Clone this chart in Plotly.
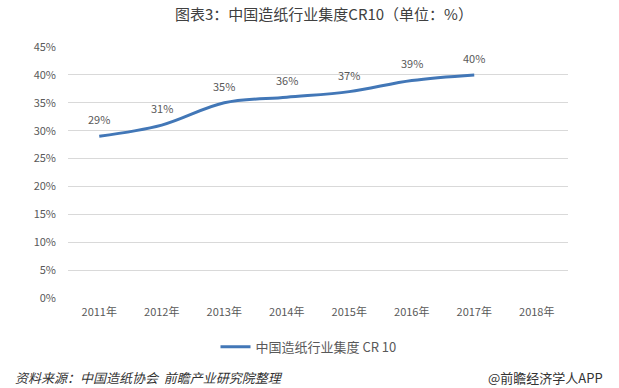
import plotly.graph_objects as go

years = ["2011年", "2012年", "2013年", "2014年", "2015年", "2016年", "2017年", "2018年"]
cr10 = [29, 31, 35, 36, 37, 39, 40, None]
y_ticks = [0, 5, 10, 15, 20, 25, 30, 35, 40, 45]
series_name = "中国造纸行业集度 CR 10"
title_text = "图表3：中国造纸行业集度CR10（单位：%）"
source_text = "资料来源：中国造纸协会  前瞻产业研究院整理"
brand_text = "@前瞻经济学人APP"

FONT = "Noto Sans CJK SC, Microsoft YaHei, sans-serif"
LINE_COLOR = "#4277B7"
TXT = "#595959"

fig = go.Figure()
fig.add_trace(go.Scatter(
    x=years, y=cr10, mode="lines", name=series_name,
    line=dict(color=LINE_COLOR, width=3, shape="spline", smoothing=1.0),
    connectgaps=False, hoverinfo="skip",
))

for yr, v in zip(years, cr10):
    if v is None:
        continue
    fig.add_annotation(x=yr, y=v, text=f"{v}%", showarrow=False,
                       yshift=17, font=dict(family=FONT, size=11, color=TXT))

fig.add_annotation(xref="paper", yref="paper", x=0.5, y=1, yanchor="middle",
                   yshift=34, xshift=6,
                   text=title_text, showarrow=False,
                   font=dict(family=FONT, size=15, color="#404040"))
fig.add_annotation(xref="paper", yref="paper", x=0, xanchor="left", xshift=-55,
                   y=0, yanchor="middle", yshift=-79,
                   text=f"<i>{source_text}</i>", showarrow=False,
                   font=dict(family=FONT, size=13, color="#333333"))
fig.add_annotation(xref="paper", yref="paper", x=1, xanchor="right", xshift=37,
                   y=0, yanchor="middle", yshift=-79,
                   text=brand_text, showarrow=False,
                   font=dict(family=FONT, size=13, color="#333333"))

fig.update_layout(
    width=619, height=388,
    margin=dict(l=68, r=51, t=47, b=90, autoexpand=False),
    paper_bgcolor="white", plot_bgcolor="white",
    showlegend=True,
    legend=dict(orientation="h", x=0.295, xanchor="left", y=-0.135, yanchor="top",
                itemwidth=30, font=dict(family=FONT, size=13, color=TXT)),
    xaxis=dict(type="category", categoryorder="array", categoryarray=years,
               range=[-0.5, 7.5],
               showgrid=False, showline=False, zeroline=False, ticks="",
               ticklabelstandoff=6, automargin=False,
               tickfont=dict(family=FONT, size=11, color=TXT), fixedrange=True),
    yaxis=dict(range=[0, 45], tickvals=y_ticks, ticktext=[f"{t}%" for t in y_ticks],
               showgrid=True, gridcolor="#d9d9d9", gridwidth=1, zeroline=False,
               showline=False, ticks="", ticklabelstandoff=11, automargin=False,
               tickfont=dict(family=FONT, size=11, color=TXT), fixedrange=True),
)

fig.write_html("out.html", config={"displayModeBar": False},
               post_script="document.body.style.margin='0';")
